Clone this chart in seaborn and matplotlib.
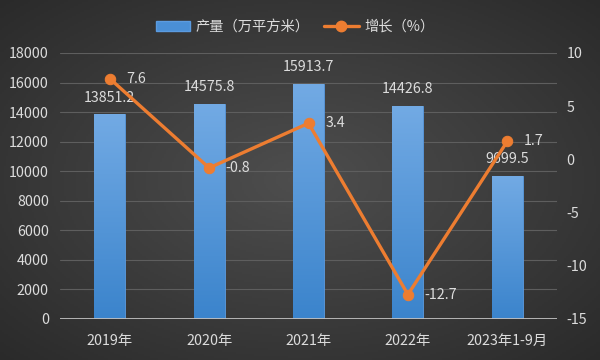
import numpy as np
import matplotlib
matplotlib.use("Agg")
import matplotlib.pyplot as plt
from matplotlib.patches import Patch
from matplotlib.lines import Line2D
import seaborn as sns

categories = ["2019年", "2020年", "2021年", "2022年", "2023年1-9月"]
production = [13851.2, 14575.8, 15913.7, 14426.8, 9699.5]
growth = [7.6, -0.8, 3.4, -12.7, 1.7]
prod_labels = ["13851.2", "14575.8", "15913.7", "14426.8", "9699.5"]
growth_labels = ["7.6", "-0.8", "3.4", "-12.7", "1.7"]
left_ticks = [0, 2000, 4000, 6000, 8000, 10000, 12000, 14000, 16000, 18000]
right_ticks = [-15, -10, -5, 0, 5, 10]
legend_labels = ["产量（万平方米）", "增长（%）"]

sns.set_theme(style="dark")
plt.rcParams["font.family"] = ["Noto Sans CJK SC", "DejaVu Sans"]

TXT = "#dcdcdc"
BAR = "#4a8fd6"
ORANGE = "#ed7d31"
FS = 10.3

fig = plt.figure(figsize=(6, 3.6), dpi=100)

# background radial gradient
bg = fig.add_axes([0, 0, 1, 1], zorder=-10)
yy, xx = np.mgrid[0:1:180j, 0:1:300j]
r = np.sqrt(((xx - 0.5) / 0.75) ** 2 + ((yy - 0.5) / 0.75) ** 2)
r = np.clip(r / 0.95, 0, 1)
c0 = np.array([0x4e, 0x4e, 0x4e]) / 255
c1 = np.array([0x2a, 0x2a, 0x2a]) / 255
img = c0[None, None, :] * (1 - r[..., None]) + c1[None, None, :] * r[..., None]
bg.imshow(img, aspect="auto", extent=[0, 1, 0, 1], origin="lower")
bg.set_axis_off()

ax = fig.add_axes([0.1, 1 - 319 / 360, (557 - 60) / 600, (319 - 53) / 360])
ax.set_facecolor("none")
ax.patch.set_alpha(0)

sns.barplot(x=categories, y=production, ax=ax, color=BAR, width=0.31,
            saturation=1, zorder=2)

# gradient fill on bars
grad = np.linspace(0, 1, 100)[:, None]
ctop = np.array([0x72, 0xaa, 0xe4]) / 255
cbot = np.array([0x3b, 0x84, 0xcc]) / 255
gimg = cbot[None, None, :] * (1 - grad[..., None]) + ctop[None, None, :] * grad[..., None]
for p in ax.patches:
    x0, y0 = p.get_x(), p.get_y()
    w, h = p.get_width(), p.get_height()
    im = ax.imshow(gimg, aspect="auto", extent=[x0, x0 + w, y0, y0 + h],
                   origin="lower", zorder=2.1)
    im.set_clip_path(p)
    p.set_edgecolor("#5b9be0")
    p.set_linewidth(0.6)

ax.set_ylim(0, 18000)
ax.set_xlim(-0.5, 4.5)
ax.set_yticks(left_ticks)
ax.set_yticklabels([str(t) for t in left_ticks])
ax.grid(axis="y", color="#5e5e5e", linewidth=0.8, zorder=0)
ax.grid(axis="x", visible=False)
ax.set_axisbelow(True)
for s in ax.spines.values():
    s.set_visible(False)
ax.axhline(0, color="#bfbfbf", linewidth=1.3, zorder=3)
ax.tick_params(axis="y", colors=TXT, labelsize=FS, length=0, pad=8)
ax.tick_params(axis="x", colors=TXT, labelsize=FS, length=0, pad=11)
ax.set_xlabel("")
ax.set_ylabel("")

for i, v in enumerate(production):
    ax.annotate(prod_labels[i], (i, v), xytext=(0, 7), textcoords="offset points",
                ha="center", va="bottom", color=TXT, fontsize=FS, zorder=5)

ax2 = ax.twinx()
ax2.set_facecolor("none")
sns.lineplot(x=np.arange(len(categories)), y=growth, ax=ax2, color=ORANGE,
             linewidth=2.4, marker="o", markersize=7.5, markeredgecolor=ORANGE,
             zorder=4)
ax2.set_ylim(-15, 10)
ax2.set_xlim(-0.5, 4.5)
ax2.set_yticks(right_ticks)
ax2.set_yticklabels([str(t) for t in right_ticks])
ax2.tick_params(axis="y", colors=TXT, labelsize=FS, length=0, pad=7)
ax2.grid(False)
for s in ax2.spines.values():
    s.set_visible(False)
ax2.set_ylabel("")

for i, v in enumerate(growth):
    ax2.annotate(growth_labels[i], (i, v), xytext=(12, 0), textcoords="offset points",
                 ha="left", va="center", color=TXT, fontsize=FS, zorder=5)

handles = [Patch(facecolor=BAR, edgecolor="#5b9be0"),
           Line2D([0], [0], color=ORANGE, linewidth=2.4, marker="o", markersize=7.5)]
fig.legend(handles, legend_labels, loc="center", bbox_to_anchor=(0.492, 1 - 27 / 360),
           ncol=2, frameon=False, fontsize=FS, labelcolor=TXT, handlelength=2.4,
           handleheight=0.65, columnspacing=1.0, handletextpad=0.4)

fig.savefig("out.png", dpi=100)
